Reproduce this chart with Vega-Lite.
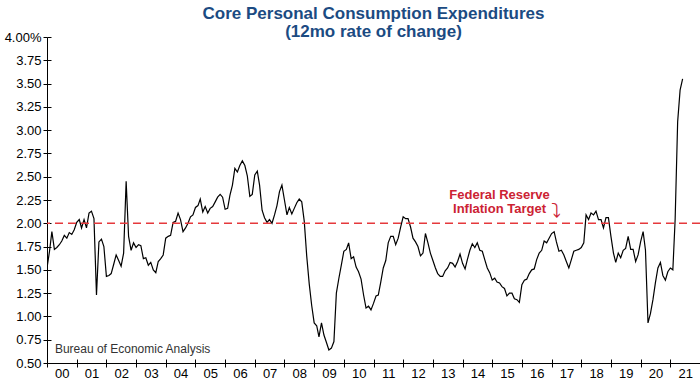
{
  "$schema": "https://vega.github.io/schema/vega-lite/v6.json",
  "width": 653,
  "height": 326,
  "autosize": {"type": "none"},
  "padding": {"left": 47, "top": 37, "right": 0, "bottom": 17},
  "background": "white",
  "title": {
    "text": ["Core Personal Consumption Expenditures", "(12mo rate of change)"],
    "font": "Liberation Sans",
    "fontWeight": "bold",
    "fontSize": 17,
    "lineHeight": 18,
    "color": "#1b4b82",
    "anchor": "middle",
    "frame": "group",
    "offset": -10
  },
  "config": {
    "view": {"stroke": null},
    "axis": {
      "grid": false,
      "domainColor": "black",
      "tickColor": "black",
      "labelColor": "black",
      "labelFont": "Liberation Sans",
      "labelFontSize": 13,
      "title": null
    }
  },
  "datasets": {
    "pce": [
      {"d":"2000-01-01","v":1.52},{"d":"2000-02-01","v":1.70},{"d":"2000-03-01","v":1.91},{"d":"2000-04-01","v":1.72},{"d":"2000-05-01","v":1.74},{"d":"2000-06-01","v":1.77},{"d":"2000-07-01","v":1.81},{"d":"2000-08-01","v":1.87},{"d":"2000-09-01","v":1.84},{"d":"2000-10-01","v":1.90},{"d":"2000-11-01","v":1.88},{"d":"2000-12-01","v":1.93},
      {"d":"2001-01-01","v":2.01},{"d":"2001-02-01","v":2.04},{"d":"2001-03-01","v":1.95},{"d":"2001-04-01","v":2.04},{"d":"2001-05-01","v":1.95},{"d":"2001-06-01","v":2.11},{"d":"2001-07-01","v":2.13},{"d":"2001-08-01","v":2.05},{"d":"2001-09-01","v":1.23},{"d":"2001-10-01","v":1.80},{"d":"2001-11-01","v":1.83},{"d":"2001-12-01","v":1.75},
      {"d":"2002-01-01","v":1.43},{"d":"2002-02-01","v":1.44},{"d":"2002-03-01","v":1.46},{"d":"2002-04-01","v":1.56},{"d":"2002-05-01","v":1.66},{"d":"2002-06-01","v":1.60},{"d":"2002-07-01","v":1.54},{"d":"2002-08-01","v":1.68},{"d":"2002-09-01","v":2.45},{"d":"2002-10-01","v":1.86},{"d":"2002-11-01","v":1.71},{"d":"2002-12-01","v":1.79},
      {"d":"2003-01-01","v":1.74},{"d":"2003-02-01","v":1.77},{"d":"2003-03-01","v":1.76},{"d":"2003-04-01","v":1.62},{"d":"2003-05-01","v":1.63},{"d":"2003-06-01","v":1.55},{"d":"2003-07-01","v":1.58},{"d":"2003-08-01","v":1.50},{"d":"2003-09-01","v":1.47},{"d":"2003-10-01","v":1.59},{"d":"2003-11-01","v":1.62},{"d":"2003-12-01","v":1.66},
      {"d":"2004-01-01","v":1.84},{"d":"2004-02-01","v":1.86},{"d":"2004-03-01","v":1.87},{"d":"2004-04-01","v":2.01},{"d":"2004-05-01","v":2.02},{"d":"2004-06-01","v":2.11},{"d":"2004-07-01","v":2.04},{"d":"2004-08-01","v":1.91},{"d":"2004-09-01","v":1.95},{"d":"2004-10-01","v":2.00},{"d":"2004-11-01","v":2.07},{"d":"2004-12-01","v":2.09},
      {"d":"2005-01-01","v":2.17},{"d":"2005-02-01","v":2.19},{"d":"2005-03-01","v":2.26},{"d":"2005-04-01","v":2.12},{"d":"2005-05-01","v":2.18},{"d":"2005-06-01","v":2.11},{"d":"2005-07-01","v":2.16},{"d":"2005-08-01","v":2.18},{"d":"2005-09-01","v":2.23},{"d":"2005-10-01","v":2.28},{"d":"2005-11-01","v":2.31},{"d":"2005-12-01","v":2.28},
      {"d":"2006-01-01","v":2.15},{"d":"2006-02-01","v":2.16},{"d":"2006-03-01","v":2.30},{"d":"2006-04-01","v":2.41},{"d":"2006-05-01","v":2.59},{"d":"2006-06-01","v":2.55},{"d":"2006-07-01","v":2.62},{"d":"2006-08-01","v":2.67},{"d":"2006-09-01","v":2.62},{"d":"2006-10-01","v":2.51},{"d":"2006-11-01","v":2.29},{"d":"2006-12-01","v":2.31},
      {"d":"2007-01-01","v":2.52},{"d":"2007-02-01","v":2.56},{"d":"2007-03-01","v":2.41},{"d":"2007-04-01","v":2.14},{"d":"2007-05-01","v":2.06},{"d":"2007-06-01","v":2.01},{"d":"2007-07-01","v":2.04},{"d":"2007-08-01","v":2.00},{"d":"2007-09-01","v":2.09},{"d":"2007-10-01","v":2.19},{"d":"2007-11-01","v":2.34},{"d":"2007-12-01","v":2.41},
      {"d":"2008-01-01","v":2.25},{"d":"2008-02-01","v":2.09},{"d":"2008-03-01","v":2.17},{"d":"2008-04-01","v":2.10},{"d":"2008-05-01","v":2.16},{"d":"2008-06-01","v":2.22},{"d":"2008-07-01","v":2.26},{"d":"2008-08-01","v":2.23},{"d":"2008-09-01","v":2.02},{"d":"2008-10-01","v":1.65},{"d":"2008-11-01","v":1.35},{"d":"2008-12-01","v":1.12},
      {"d":"2009-01-01","v":0.93},{"d":"2009-02-01","v":0.90},{"d":"2009-03-01","v":0.78},{"d":"2009-04-01","v":0.93},{"d":"2009-05-01","v":0.80},{"d":"2009-06-01","v":0.72},{"d":"2009-07-01","v":0.64},{"d":"2009-08-01","v":0.66},{"d":"2009-09-01","v":0.73},{"d":"2009-10-01","v":1.25},{"d":"2009-11-01","v":1.41},{"d":"2009-12-01","v":1.55},
      {"d":"2010-01-01","v":1.70},{"d":"2010-02-01","v":1.72},{"d":"2010-03-01","v":1.79},{"d":"2010-04-01","v":1.62},{"d":"2010-05-01","v":1.64},{"d":"2010-06-01","v":1.53},{"d":"2010-07-01","v":1.48},{"d":"2010-08-01","v":1.40},{"d":"2010-09-01","v":1.23},{"d":"2010-10-01","v":1.09},{"d":"2010-11-01","v":1.11},{"d":"2010-12-01","v":1.07},
      {"d":"2011-01-01","v":1.14},{"d":"2011-02-01","v":1.22},{"d":"2011-03-01","v":1.23},{"d":"2011-04-01","v":1.37},{"d":"2011-05-01","v":1.52},{"d":"2011-06-01","v":1.60},{"d":"2011-07-01","v":1.79},{"d":"2011-08-01","v":1.86},{"d":"2011-09-01","v":1.86},{"d":"2011-10-01","v":1.77},{"d":"2011-11-01","v":1.84},{"d":"2011-12-01","v":1.96},
      {"d":"2012-01-01","v":2.07},{"d":"2012-02-01","v":2.05},{"d":"2012-03-01","v":2.05},{"d":"2012-04-01","v":1.96},{"d":"2012-05-01","v":1.84},{"d":"2012-06-01","v":1.80},{"d":"2012-07-01","v":1.75},{"d":"2012-08-01","v":1.65},{"d":"2012-09-01","v":1.68},{"d":"2012-10-01","v":1.89},{"d":"2012-11-01","v":1.79},{"d":"2012-12-01","v":1.68},
      {"d":"2013-01-01","v":1.60},{"d":"2013-02-01","v":1.52},{"d":"2013-03-01","v":1.46},{"d":"2013-04-01","v":1.43},{"d":"2013-05-01","v":1.43},{"d":"2013-06-01","v":1.49},{"d":"2013-07-01","v":1.52},{"d":"2013-08-01","v":1.58},{"d":"2013-09-01","v":1.57},{"d":"2013-10-01","v":1.53},{"d":"2013-11-01","v":1.59},{"d":"2013-12-01","v":1.67},
      {"d":"2014-01-01","v":1.57},{"d":"2014-02-01","v":1.51},{"d":"2014-03-01","v":1.61},{"d":"2014-04-01","v":1.71},{"d":"2014-05-01","v":1.78},{"d":"2014-06-01","v":1.74},{"d":"2014-07-01","v":1.79},{"d":"2014-08-01","v":1.71},{"d":"2014-09-01","v":1.70},{"d":"2014-10-01","v":1.61},{"d":"2014-11-01","v":1.52},{"d":"2014-12-01","v":1.47},
      {"d":"2015-01-01","v":1.39},{"d":"2015-02-01","v":1.41},{"d":"2015-03-01","v":1.37},{"d":"2015-04-01","v":1.36},{"d":"2015-05-01","v":1.32},{"d":"2015-06-01","v":1.30},{"d":"2015-07-01","v":1.22},{"d":"2015-08-01","v":1.25},{"d":"2015-09-01","v":1.25},{"d":"2015-10-01","v":1.19},{"d":"2015-11-01","v":1.18},{"d":"2015-12-01","v":1.15},
      {"d":"2016-01-01","v":1.34},{"d":"2016-02-01","v":1.39},{"d":"2016-03-01","v":1.40},{"d":"2016-04-01","v":1.46},{"d":"2016-05-01","v":1.50},{"d":"2016-06-01","v":1.51},{"d":"2016-07-01","v":1.61},{"d":"2016-08-01","v":1.68},{"d":"2016-09-01","v":1.71},{"d":"2016-10-01","v":1.81},{"d":"2016-11-01","v":1.79},{"d":"2016-12-01","v":1.84},
      {"d":"2017-01-01","v":1.89},{"d":"2017-02-01","v":1.91},{"d":"2017-03-01","v":1.80},{"d":"2017-04-01","v":1.70},{"d":"2017-05-01","v":1.71},{"d":"2017-06-01","v":1.66},{"d":"2017-07-01","v":1.59},{"d":"2017-08-01","v":1.52},{"d":"2017-09-01","v":1.61},{"d":"2017-10-01","v":1.70},{"d":"2017-11-01","v":1.71},{"d":"2017-12-01","v":1.72},
      {"d":"2018-01-01","v":1.74},{"d":"2018-02-01","v":1.79},{"d":"2018-03-01","v":2.09},{"d":"2018-04-01","v":2.04},{"d":"2018-05-01","v":2.11},{"d":"2018-06-01","v":2.09},{"d":"2018-07-01","v":2.13},{"d":"2018-08-01","v":2.04},{"d":"2018-09-01","v":2.04},{"d":"2018-10-01","v":1.95},{"d":"2018-11-01","v":2.06},{"d":"2018-12-01","v":2.06},
      {"d":"2019-01-01","v":1.86},{"d":"2019-02-01","v":1.68},{"d":"2019-03-01","v":1.58},{"d":"2019-04-01","v":1.68},{"d":"2019-05-01","v":1.63},{"d":"2019-06-01","v":1.71},{"d":"2019-07-01","v":1.73},{"d":"2019-08-01","v":1.86},{"d":"2019-09-01","v":1.72},{"d":"2019-10-01","v":1.72},{"d":"2019-11-01","v":1.59},{"d":"2019-12-01","v":1.66},
      {"d":"2020-01-01","v":1.80},{"d":"2020-02-01","v":1.91},{"d":"2020-03-01","v":1.71},{"d":"2020-04-01","v":0.93},{"d":"2020-05-01","v":1.03},{"d":"2020-06-01","v":1.18},{"d":"2020-07-01","v":1.36},{"d":"2020-08-01","v":1.52},{"d":"2020-09-01","v":1.58},{"d":"2020-10-01","v":1.44},{"d":"2020-11-01","v":1.39},{"d":"2020-12-01","v":1.48},
      {"d":"2021-01-01","v":1.52},{"d":"2021-02-01","v":1.50},{"d":"2021-03-01","v":2.04},{"d":"2021-04-01","v":3.09},{"d":"2021-05-01","v":3.43},{"d":"2021-06-01","v":3.55}
    ],
    "target": [
      {"d":"2015-04-01","v":2.262,"label":"Federal Reserve"},
      {"d":"2015-04-01","v":2.107,"label":"Inflation Target"}
    ],
    "source": [
      {"d":"2000-04-07","v":0.607,"label":"Bureau of Economic Analysis"}
    ],
    "arrow": [
      {"d":"2017-02-24","v":2.12,"label":"⤵"}
    ]
  },
  "layer": [
    {
      "data": {"name": "pce"},
      "mark": {"type": "line", "color": "black", "strokeWidth": 1.2, "clip": true},
      "encoding": {
        "x": {
          "field": "d",
          "type": "temporal",
          "scale": {"type": "utc", "domain": [{"year": 2000, "month": 1, "date": 1, "utc": true}, {"year": 2022, "month": 1, "date": 1, "utc": true}]},
          "axis": {
            "values": [
              {"year":2000,"utc":true},{"year":2001,"utc":true},{"year":2002,"utc":true},{"year":2003,"utc":true},{"year":2004,"utc":true},{"year":2005,"utc":true},{"year":2006,"utc":true},{"year":2007,"utc":true},{"year":2008,"utc":true},{"year":2009,"utc":true},{"year":2010,"utc":true},{"year":2011,"utc":true},{"year":2012,"utc":true},{"year":2013,"utc":true},{"year":2014,"utc":true},{"year":2015,"utc":true},{"year":2016,"utc":true},{"year":2017,"utc":true},{"year":2018,"utc":true},{"year":2019,"utc":true},{"year":2020,"utc":true},{"year":2021,"utc":true}
            ],
            "labelExpr": "utcFormat(datum.value, '%y')",
            "labelOffset": 14.84,
            "labelAlign": "center",
            "labelFlush": false,
            "labelOverlap": false,
            "tickSize": 4,
            "labelPadding": 0
          }
        },
        "y": {
          "field": "v",
          "type": "quantitative",
          "scale": {"domain": [0.5, 4], "nice": false, "zero": false},
          "axis": {
            "values": [0.5, 0.75, 1, 1.25, 1.5, 1.75, 2, 2.25, 2.5, 2.75, 3, 3.25, 3.5, 3.75, 4],
            "labelExpr": "datum.value == 4 ? '4.00%' : format(datum.value, '.2f')",
            "tickSize": 4,
            "labelPadding": 2,
            "labelFlush": false,
            "labelOverlap": false
          }
        }
      }
    },
    {
      "mark": {"type": "rule", "color": "#e5393c", "strokeWidth": 1.4, "strokeDash": [8, 5]},
      "encoding": {
        "y": {
          "datum": 2,
          "type": "quantitative",
          "axis": {
            "orient": "left",
            "values": [0.5, 0.75, 1, 1.25, 1.5, 1.75, 2, 2.25, 2.5, 2.75, 3, 3.25, 3.5, 3.75, 4],
            "labels": false,
            "domain": false,
            "tickSize": -4
          }
        }
      }
    },
    {
      "data": {"name": "target"},
      "mark": {"type": "text", "font": "Liberation Sans", "fontWeight": "bold", "fontSize": 13, "color": "#cc2233", "align": "center", "baseline": "alphabetic"},
      "encoding": {
        "x": {
          "field": "d",
          "type": "temporal",
          "axis": {
            "orient": "bottom",
            "values": [
              {"year":2001,"utc":true},{"year":2002,"utc":true},{"year":2003,"utc":true},{"year":2004,"utc":true},{"year":2005,"utc":true},{"year":2006,"utc":true},{"year":2007,"utc":true},{"year":2008,"utc":true},{"year":2009,"utc":true},{"year":2010,"utc":true},{"year":2011,"utc":true},{"year":2012,"utc":true},{"year":2013,"utc":true},{"year":2014,"utc":true},{"year":2015,"utc":true},{"year":2016,"utc":true},{"year":2017,"utc":true},{"year":2018,"utc":true},{"year":2019,"utc":true},{"year":2020,"utc":true},{"year":2021,"utc":true}
            ],
            "labels": false,
            "domain": false,
            "tickSize": -4
          }
        },
        "y": {"field": "v", "type": "quantitative", "axis": null},
        "text": {"field": "label"}
      }
    },
    {
      "data": {"name": "source"},
      "mark": {"type": "text", "font": "Liberation Sans", "fontSize": 12, "color": "#333333", "align": "left", "baseline": "alphabetic"},
      "encoding": {
        "x": {"field": "d", "type": "temporal", "axis": null},
        "y": {"field": "v", "type": "quantitative", "axis": null},
        "text": {"field": "label"}
      }
    },
    {
      "data": {"name": "arrow"},
      "mark": {"type": "text", "font": "DejaVu Sans", "fontSize": 20, "color": "#cc2233", "align": "center", "baseline": "middle"},
      "encoding": {
        "x": {"field": "d", "type": "temporal", "axis": null},
        "y": {"field": "v", "type": "quantitative", "axis": null},
        "text": {"field": "label"}
      }
    }
  ],
  "resolve": {"axis": {"x": "independent", "y": "independent"}}
}
